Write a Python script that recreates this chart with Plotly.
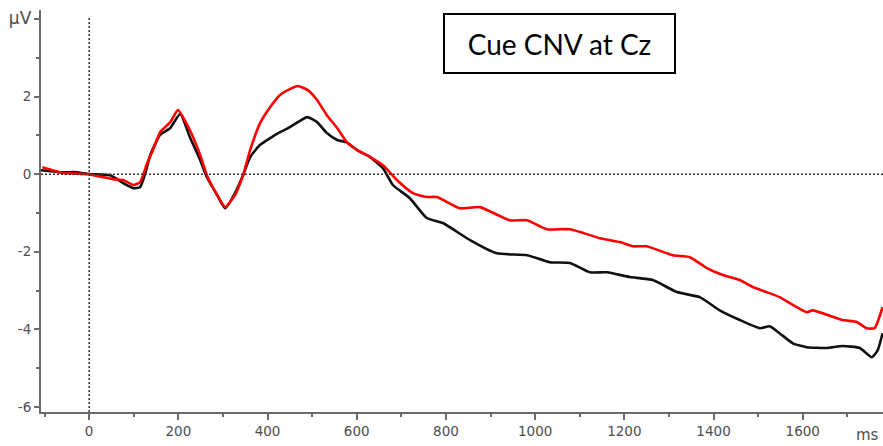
import plotly.graph_objects as go

# Time (ms) and amplitude (µV)
black_t = [-108, -65, -27, 0, 47, 76, 99, 114, 126, 137, 159, 182, 204, 226, 249, 264, 287, 305,
           327, 345, 361, 383, 406, 428, 450, 468, 489, 511, 533, 556, 578, 601, 630, 659, 681,
           719, 757, 793, 854, 914, 982, 1033, 1078, 1123, 1161, 1212, 1264, 1318, 1369, 1414,
           1459, 1504, 1526, 1548, 1578, 1609, 1654, 1690, 1728, 1755, 1768, 1779]
black_v = [0.10, 0.05, 0.05, 0.00, -0.03, -0.23, -0.36, -0.34, 0.03, 0.49, 1.01, 1.19, 1.55, 0.95,
           0.36, -0.08, -0.54, -0.88, -0.49, -0.03, 0.44, 0.75, 0.93, 1.08, 1.21, 1.34, 1.47, 1.34,
           1.06, 0.88, 0.82, 0.62, 0.44, 0.15, -0.28, -0.62, -1.13, -1.26, -1.70, -2.04, -2.09,
           -2.27, -2.29, -2.53, -2.53, -2.65, -2.73, -3.04, -3.17, -3.51, -3.76, -3.97, -3.92,
           -4.10, -4.36, -4.46, -4.48, -4.43, -4.48, -4.72, -4.54, -4.10]

red_t = [-105, -58, -4, 54, 76, 99, 114, 130, 143, 159, 182, 199, 226, 249, 264, 287, 305, 327,
         345, 361, 383, 406, 428, 450, 468, 491, 511, 533, 556, 578, 601, 630, 659, 690, 726, 757,
         780, 831, 876, 943, 982, 1026, 1078, 1145, 1190, 1219, 1250, 1309, 1347, 1385, 1421,
         1459, 1488, 1519, 1548, 1609, 1622, 1690, 1721, 1743, 1761, 1779]
red_v = [0.18, 0.03, 0.00, -0.13, -0.15, -0.28, -0.21, 0.28, 0.62, 1.08, 1.34, 1.65, 1.13, 0.49,
         -0.03, -0.54, -0.85, -0.54, -0.03, 0.62, 1.31, 1.73, 2.04, 2.19, 2.27, 2.16, 1.91, 1.52,
         1.19, 0.82, 0.62, 0.44, 0.23, -0.15, -0.49, -0.59, -0.59, -0.88, -0.85, -1.19, -1.19,
         -1.42, -1.42, -1.65, -1.75, -1.86, -1.86, -2.09, -2.14, -2.42, -2.60, -2.73, -2.91,
         -3.04, -3.17, -3.56, -3.51, -3.76, -3.81, -3.97, -3.97, -3.43]

x_ticks = [0, 200, 400, 600, 800, 1000, 1200, 1400, 1600]
y_ticks = [-6, -4, -2, 0, 2, 4]
y_ticktext = ["-6", "-4", "-2", "0", "2", "<span style='font-size:17px'>µV</span>"]
title_text = "Cue CNV at Cz"

AX = "#6a6a6a"
TICKFONT = dict(family="DejaVu Sans, Liberation Sans, sans-serif", size=13.5, color="#4d4d4d")

fig = go.Figure()
fig.add_trace(go.Scatter(x=black_t, y=black_v, mode="lines",
                         line=dict(color="#111111", width=2.6, shape="spline", smoothing=0.5),
                         showlegend=False))
fig.add_trace(go.Scatter(x=red_t, y=red_v, mode="lines",
                         line=dict(color="#ff0000", width=2.6, shape="spline", smoothing=0.5),
                         showlegend=False))

fig.update_layout(
    width=883, height=446,
    margin=dict(l=41, r=0, t=10, b=34),
    paper_bgcolor="white", plot_bgcolor="white",
    xaxis=dict(range=[-108, 1780], tickvals=x_ticks, showgrid=False, zeroline=False,
               showline=True, linecolor=AX, linewidth=2,
               ticks="outside", ticklen=6, tickwidth=2, tickcolor=AX,
               tickfont=TICKFONT,
               minor=dict(dtick=100, tick0=0, ticks="outside", ticklen=3, tickwidth=2, tickcolor=AX, showgrid=False)),
    yaxis=dict(range=[-6.13, 4.23], tickvals=y_ticks, ticktext=y_ticktext, showgrid=False,
               zeroline=False, showline=True, linecolor=AX, linewidth=2,
               ticks="outside", ticklen=5, tickwidth=2, tickcolor=AX,
               tickfont=TICKFONT,
               minor=dict(dtick=1, tick0=0, ticks="outside", ticklen=3, tickwidth=2, tickcolor=AX, showgrid=False)),
    shapes=[
        dict(type="line", xref="x", yref="paper", x0=0, x1=0, y0=0, y1=0.985,
             line=dict(color="#333333", width=1.5, dash="2px,2px")),
        dict(type="line", xref="paper", yref="y", x0=0, x1=1, y0=0, y1=0,
             line=dict(color="#333333", width=1.5, dash="2px,2px")),
    ],
    annotations=[
        dict(text=title_text, xref="paper", yref="paper", x=0.4774, y=0.9925,
             xanchor="left", yanchor="top", showarrow=False,
             width=229, height=57, borderpad=0, borderwidth=2, bordercolor="black",
             bgcolor="white", align="center",
             font=dict(family="Lato, Carlito, sans-serif", size=28, color="black")),
        dict(text="ms", xref="paper", yref="paper", x=0.982, y=-0.057,
             xanchor="center", yanchor="middle", showarrow=False,
             font=dict(family=TICKFONT["family"], size=15, color=TICKFONT["color"])),
    ],
)

fig.write_html("out.html", config={"displayModeBar": False},
               post_script="document.body.style.margin='0';document.body.style.overflow='hidden';")
